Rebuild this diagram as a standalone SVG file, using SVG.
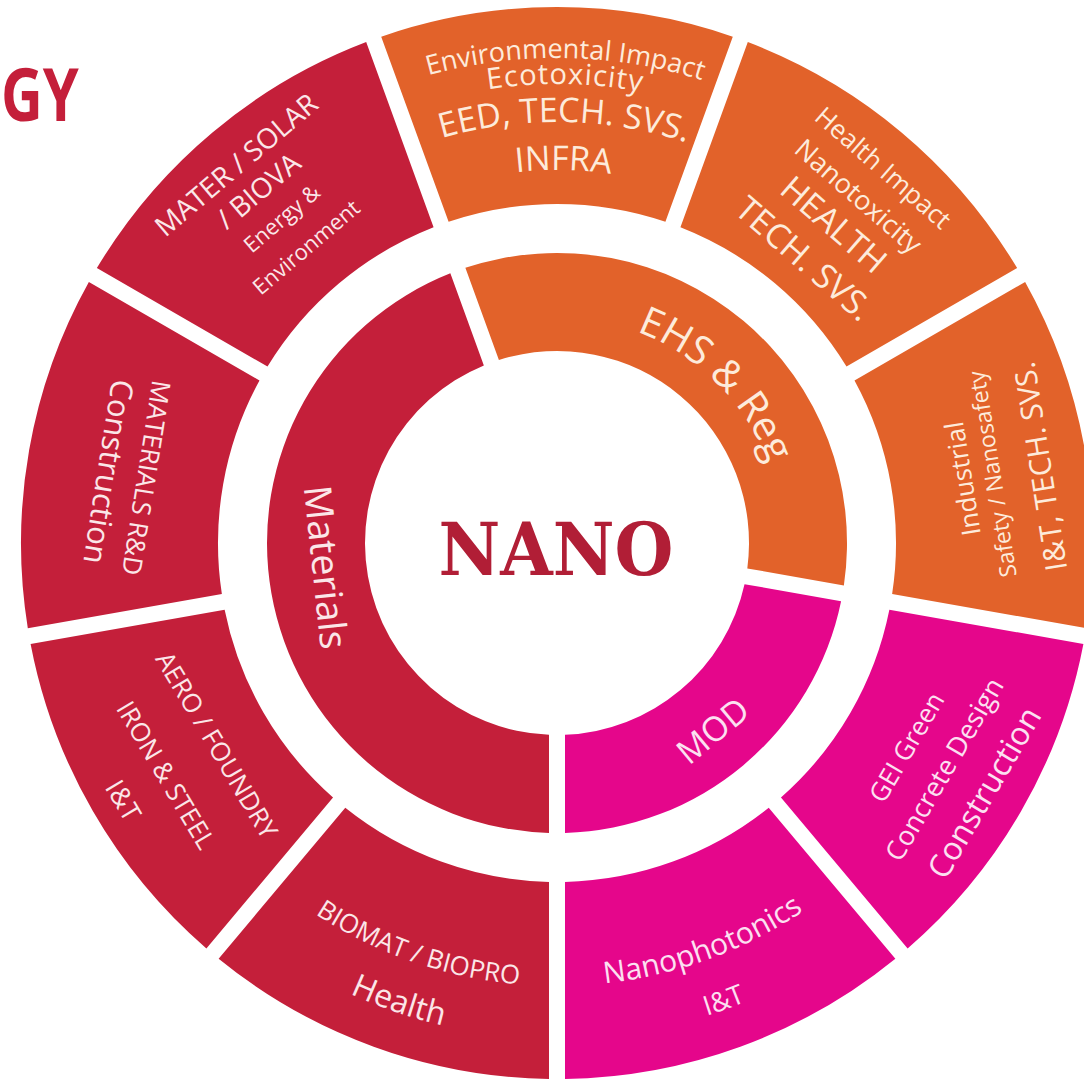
<svg xmlns="http://www.w3.org/2000/svg" width="1084" height="1083" viewBox="0 0 1084 1083">
<style>
.red{fill:#C41F3A}
.orange{fill:#E2622A}
.mag{fill:#E5068B}
.lbl{font-family:"Open Sans","Noto Sans",sans-serif;text-anchor:middle}
.on-red{fill:#FBE6E8}
.on-orange{fill:#FDEBDB}
.on-mag{fill:#FCE0F1}
</style>
<defs>
<path id="seg" d="M381.21,36.65 A536,536 0 0 1 732.79,36.65 L665.40,221.80 A339,339 0 0 0 448.60,221.80 Z"/>
<path id="a485" d="M101.25,377.12 A485,485 0 0 1 1012.75,377.12"/>
<path id="a459" d="M125.68,386.01 A459,459 0 0 1 988.32,386.01"/>
<path id="a421" d="M161.39,399.01 A421,421 0 0 1 952.61,399.01"/>
<path id="a373" d="M206.50,415.43 A373,373 0 0 1 907.50,415.43"/>
<path id="a226" d="M344.63,465.70 A226,226 0 0 1 769.37,465.70"/>
<path id="b443" d="M140.72,694.51 A443,443 0 0 0 973.28,694.51"/>
<path id="b496" d="M90.91,712.64 A496,496 0 0 0 1023.09,712.64"/>
</defs>
<rect width="1084" height="1083" fill="#FFFFFF"/>
<g id="title">
<text transform="translate(1 121) scale(0.78 1)" x="0" y="0" font-family="'Open Sans',sans-serif" font-weight="700" font-size="74" fill="#C41F3A">GY</text>
</g>
<g id="center">
<text x="556" y="575" font-family="'DejaVu Serif','Liberation Serif',serif" font-weight="700" font-size="72" fill="#B11E36" text-anchor="middle" textLength="235" lengthAdjust="spacingAndGlyphs">NANO</text>
</g>
<g id="materials">
<path class="red" d="M549,832.89 A290,290 0 0 1 450.34,273.33 L483.87,365.47 A192,192 0 0 0 549,734.83 Z"/>
<text class="lbl on-red" transform="rotate(84 557 543)" x="557" y="789" font-size="38">Materials</text>
</g>
<g id="ehs-reg">
<path class="orange" d="M465.37,267.85 A290,290 0 0 1 843.88,585.46 L747.31,568.43 A192,192 0 0 0 498.91,360.0 Z"/>
<text class="lbl on-orange" transform="rotate(45 557 543)" font-size="40"><textPath href="#a226" startOffset="50%">EHS &amp; Reg</textPath></text>
</g>
<g id="mod">
<path class="mag" d="M841.10,601.22 A290,290 0 0 1 565,832.89 L565,734.83 A192,192 0 0 0 744.53,584.19 Z"/>
<text class="lbl on-mag" transform="rotate(-39.7 557 543)" x="557" y="799" font-size="34">MOD</text>
</g>
<g id="env-impact">
<use href="#seg" class="orange"/>
<g class="lbl on-orange" transform="rotate(1 557 543)">
<text font-size="27"><textPath href="#a485" startOffset="50%">Environmental Impact</textPath></text>
<text font-size="29" letter-spacing="1"><textPath href="#a459" startOffset="50%">Ecotoxicity</textPath></text>
<text font-size="34"><textPath href="#a421" startOffset="50%">EED, TECH. SVS.</textPath></text>
<text font-size="34"><textPath href="#a373" startOffset="50%">INFRA</textPath></text>
</g>
</g>
<g id="health-impact">
<use href="#seg" class="orange" transform="rotate(40 557 543)"/>
<g class="lbl on-orange" transform="rotate(41 557 543)">
<text x="557" y="55" font-size="26">Health Impact</text>
<text x="557" y="93" font-size="27">Nanotoxicity</text>
<text x="557" y="133" font-size="34">HEALTH</text>
<text x="557" y="178" font-size="34">TECH. SVS.</text>
</g>
</g>
<g id="industrial">
<use href="#seg" class="orange" transform="rotate(80 557 543)"/>
<g class="lbl on-orange" transform="rotate(-99 557 543)">
<text x="557" y="963" font-size="26">Industrial</text>
<text x="557" y="992" font-size="23">Safety / Nanosafety</text>
<text x="557" y="1043" font-size="30">I&amp;T, TECH. SVS.</text>
</g>
</g>
<g id="gei-green">
<use href="#seg" class="mag" transform="rotate(120 557 543)"/>
<g class="lbl on-mag" transform="rotate(-59.7 557 543)">
<text x="557" y="957" font-size="26">GEI Green</text>
<text x="557" y="1001" font-size="27">Concrete Design</text>
<text x="557" y="1049" font-size="32">Construction</text>
</g>
</g>
<g id="nanophotonics">
<use href="#seg" class="mag" transform="rotate(160 557 543)"/>
<g class="lbl on-mag" transform="rotate(-20 557 543)">
<text font-size="30"><textPath href="#b443" startOffset="50%">Nanophotonics</textPath></text>
<text font-size="27"><textPath href="#b496" startOffset="50%">I&amp;T</textPath></text>
</g>
</g>
<g id="biomat">
<use href="#seg" class="red" transform="rotate(200 557 543)"/>
<g class="lbl on-red" transform="rotate(19 557 543)">
<text font-size="26"><textPath href="#b443" startOffset="50%">BIOMAT / BIOPRO</textPath></text>
<text font-size="32"><textPath href="#b496" startOffset="50%">Health</textPath></text>
</g>
</g>
<g id="aero-foundry">
<use href="#seg" class="red" transform="rotate(240 557 543)"/>
<g class="lbl on-red" transform="rotate(59.3 557 543)">
<text x="557" y="948" font-size="26">AERO / FOUNDRY</text>
<text x="557" y="1007" font-size="26">IRON &amp; STEEL</text>
<text x="557" y="1057" font-size="27">I&amp;T</text>
</g>
</g>
<g id="materials-rd">
<use href="#seg" class="red" transform="rotate(280 557 543)"/>
<g class="lbl on-red" transform="rotate(99 557 543)">
<text x="557" y="968" font-size="26">MATERIALS R&amp;D</text>
<text x="557" y="1008" font-size="31">Construction</text>
</g>
</g>
<g id="mater-solar">
<use href="#seg" class="red" transform="rotate(320 557 543)"/>
<g class="lbl on-red" transform="rotate(-40.3 557 543)">
<text x="557" y="57" font-size="28">MATER / SOLAR</text>
<text x="557" y="91" font-size="28">/ BIOVA</text>
<text x="557" y="125" font-size="22">Energy &amp;</text>
<text x="557" y="163" font-size="22">Environment</text>
</g>
</g>
</svg>
